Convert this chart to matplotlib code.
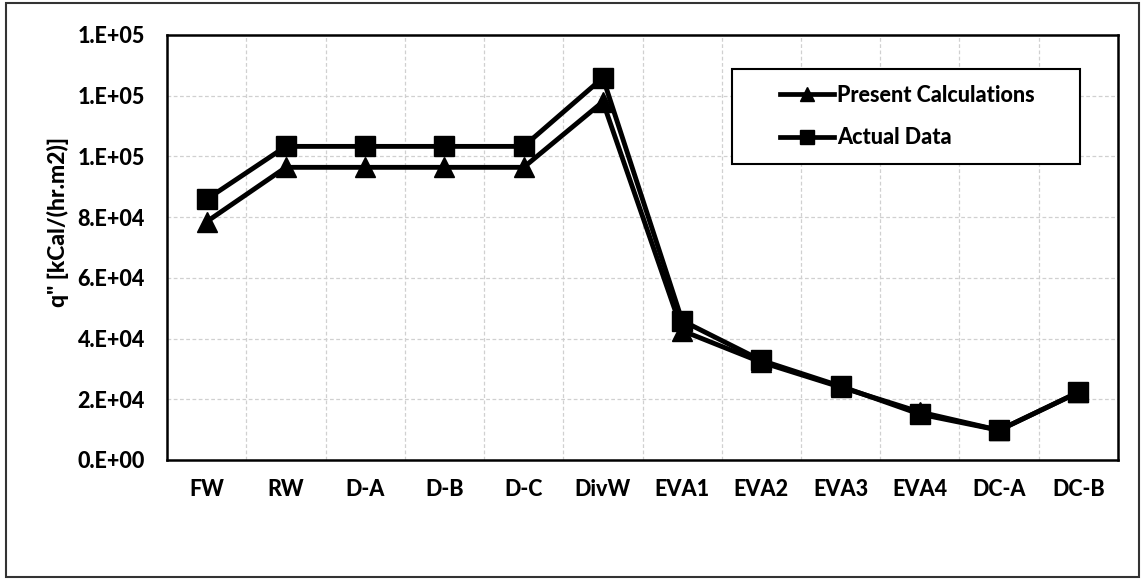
import matplotlib
matplotlib.use("Agg")
import matplotlib.pyplot as plt
from matplotlib.ticker import FuncFormatter, MultipleLocator, FixedLocator
from matplotlib.patches import Rectangle

categories = ["FW", "RW", "D-A", "D-B", "D-C", "DivW", "EVA1", "EVA2", "EVA3", "EVA4", "DC-A", "DC-B"]
present_calc = [78500, 96400, 96400, 96400, 96400, 118000, 42600, 32200, 24000, 15800, 9800, 22300]
actual_data = [85900, 103300, 103300, 103300, 103300, 125900, 45900, 32800, 24300, 15100, 9800, 22300]
y_ticks = [0, 20000, 40000, 60000, 80000, 100000, 120000, 140000]

plt.rcParams['font.family'] = ['Lato', 'DejaVu Sans']
W = 'black'

fig = plt.figure(figsize=(11.45, 5.8), dpi=100)
ax = fig.add_axes([0.1459, 0.2069, 0.8305, 0.7328])

x = list(range(len(categories)))
ax.plot(x, present_calc, color='black', lw=3.5, marker='^', markersize=14,
        label='Present Calculations', zorder=3)
ax.plot(x, actual_data, color='black', lw=3.5, marker='s', markersize=15,
        label='Actual Data', zorder=4)

ax.set_xlim(-0.5, len(categories) - 0.5)
ax.set_ylim(0, 140000)
ax.set_xticks(x)
ax.set_xticklabels(categories, fontsize=15.5, fontweight=W)
ax.yaxis.set_major_locator(FixedLocator(y_ticks))
ax.yaxis.set_major_formatter(FuncFormatter(lambda v, p: "%#.0E" % v))
for lab in ax.get_yticklabels():
    lab.set_fontsize(15.5)
    lab.set_fontweight(W)
ax.xaxis.set_minor_locator(MultipleLocator(1, offset=0.5))
ax.tick_params(axis='both', which='both', length=0)
ax.tick_params(axis='x', pad=14)
ax.tick_params(axis='y', pad=16)

ax.grid(True, which='major', axis='y', color='#d0d0d0', linestyle=(0, (3, 2)), lw=0.9)
ax.grid(True, which='minor', axis='x', color='#d0d0d0', linestyle=(0, (3, 2)), lw=0.9)
ax.set_axisbelow(True)

for s in ax.spines.values():
    s.set_linewidth(1.8)
    s.set_color('black')

fig.text(58 / 1145, 1 - 222 / 580, 'q" [kCal/(hr.m2)]', rotation=90,
         ha='center', va='center', fontsize=16.5, fontweight=W)

# legend frame box
ax.add_patch(Rectangle((0.594, 0.696), 0.366, 0.224, transform=ax.transAxes,
                       facecolor='white', edgecolor='black', lw=1.5, zorder=5))
leg = ax.legend(loc='center left', bbox_to_anchor=(0.645, 0.808),
                frameon=False, prop={'weight': W, 'size': 15.5},
                handlelength=2.5, handletextpad=0.15, borderpad=0,
                labelspacing=1.0, borderaxespad=0)
leg.set_zorder(6)
for h in leg.legend_handles:
    h.set_markersize(10)
    h.set_linewidth(3.4)

fig.patches.append(Rectangle((0.005, 0.005), 0.99, 0.99, transform=fig.transFigure,
                             fill=False, edgecolor='#333333', lw=1.5))

fig.savefig("out.png", dpi=100)
